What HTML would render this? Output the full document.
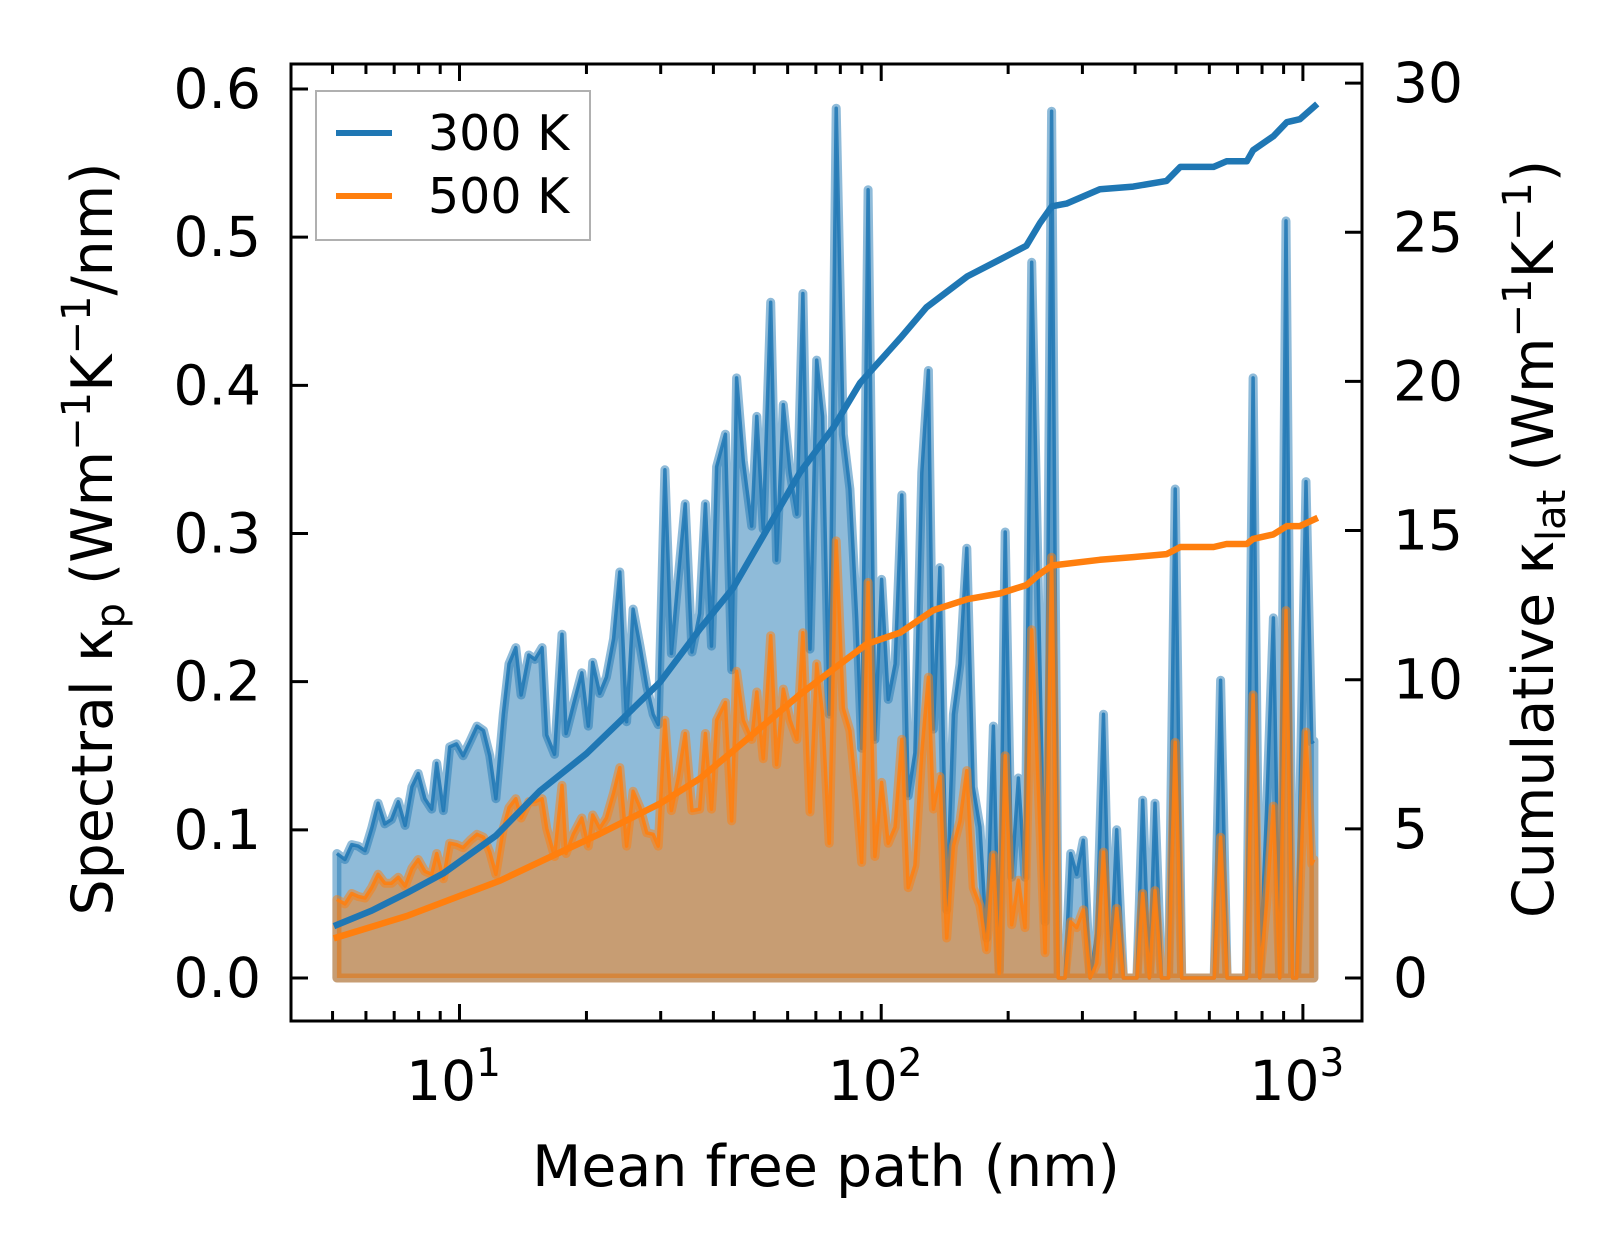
<!DOCTYPE html>
<html><head><meta charset="utf-8"><style>
html,body{margin:0;padding:0;background:#fff;}
svg{display:block;font-family:"DejaVu Sans","Liberation Sans",sans-serif;}
</style></head><body>
<svg id="chart" width="1623" height="1259" viewBox="0 0 1623 1259" xmlns="http://www.w3.org/2000/svg">
<rect width="1623" height="1259" fill="#fff"/>
<g id="marks"></g>
<g id="axes"></g>
<g>
  <rect x="316" y="91" width="274" height="149" fill="#fff" fill-opacity="0.8" stroke="#b0b0b0" stroke-width="2"/>
  <line x1="336" y1="133" x2="392" y2="133" stroke="#1f77b4" stroke-width="6"/>
  <text x="428" y="150" font-size="49">300 K</text>
  <line x1="336" y1="196" x2="392" y2="196" stroke="#ff7f0e" stroke-width="6"/>
  <text x="428" y="213" font-size="49">500 K</text>
</g>
<text x="826" y="1186" font-size="57" text-anchor="middle">Mean free path (nm)</text>
<text transform="translate(112,539) rotate(-90)" font-size="57" text-anchor="middle">Spectral κ<tspan font-size="40" dy="12">p</tspan><tspan dy="-12"> (Wm</tspan><tspan font-size="40" dy="-22">−1</tspan><tspan dy="22">K</tspan><tspan font-size="40" dy="-22">−1</tspan><tspan dy="22">/nm)</tspan></text>
<text transform="translate(1553,539) rotate(-90)" font-size="57" text-anchor="middle">Cumulative κ<tspan font-size="40" dy="12">lat</tspan><tspan dy="-12"> (Wm</tspan><tspan font-size="40" dy="-22">−1</tspan><tspan dy="22">K</tspan><tspan font-size="40" dy="-22">−1</tspan><tspan dy="22">)</tspan></text>
</svg>
<script>
// ---- data ----
const mfp = [5.12,5.35,5.55,5.75,5.97,6.19,6.41,6.65,6.90,7.16,7.43,7.71,7.98,8.28,8.59,8.83,9.16,9.48,9.84,10.2,10.6,11.0,11.4,11.8,12.2,12.7,13.1,13.6,14.0,14.6,15.1,15.7,16.1,16.8,17.5,17.9,18.6,19.5,20.2,20.7,21.5,22.3,23.2,24.0,24.9,25.8,26.8,27.8,28.8,29.6,30.7,31.8,33.0,34.3,35.6,
37.1,38.3,39.6,40.7,42.7,44.2,45.4,47.1,49.3,50.7,52.5,54.7,56.5,58.6,60.8,63.1,65.2,67.8,70.3,72.6,75.3,78.2,81.3,84.3,87.5,89.9,93.1,96.6,100.2,103.9,107.9,111.9,115.9,120.2,124.8,129.4,133.0,137.8,143.0,148.3,153.8,159.6,165.3,171.4,177.8,184.5,
190.5,196.8,203.9,211.5,219.3,227.5,244.7,253.5,263.0,272.8,281.5,290.8,301.5,312.8,324.5,336.6,349.1,361.7,375.2,389,404,417,432.5,446,462,480,498,516,535,555,575,595,616,638,661,685,710,735,762,790,820,851,881,912,946,966,1017,1050,1062];
const spec300 = [.084,.080,.090,.089,.086,.101,.118,.104,.107,.119,.103,.129,.138,.121,.114,.145,.113,.156,.158,.150,.160,.170,.167,.150,.121,.178,.212,.223,.191,.218,.215,.223,.164,.151,.232,.165,.184,.206,.170,.213,.192,.203,.229,.274,.173,.249,.224,.197,.178,.171,.343,.219,.270,.320,.220,
.246,.320,.224,.345,.367,.208,.405,.349,.305,.379,.303,.456,.282,.387,.341,.313,.462,.222,.417,.379,.178,.587,.367,.330,.243,.155,.532,.161,.269,.188,.212,.326,.123,.152,.341,.410,.168,.277,.046,.178,.212,.290,.129,.102,.027,.170,
.005,.301,.068,.135,.068,.483,.038,.585,0,0,.084,.070,.093,0,.03,.178,0,.100,0,0,0,.120,0,.118,0,0,.330,0,0,0,0,0,0,.201,0,0,0,0,.405,0,.114,.243,0,.511,0,0,.335,.159,.160];
const spec500 = [.053,.050,.057,.055,.054,.061,.070,.064,.064,.068,.062,.074,.080,.072,.070,.084,.067,.091,.090,.088,.093,.097,.095,.085,.070,.101,.115,.121,.108,.119,.119,.121,.101,.082,.130,.084,.097,.108,.089,.110,.101,.108,.125,.142,.089,.126,.115,.098,.097,.089,.174,.113,.135,.165,.113,
.114,.165,.114,.174,.186,.106,.207,.174,.161,.193,.148,.231,.144,.195,.174,.161,.233,.112,.212,.178,.091,.295,.182,.167,.121,.078,.267,.082,.132,.091,.102,.161,.061,.076,.152,.203,.114,.136,.027,.089,.106,.140,.061,.049,.019,.083,
.003,.150,.036,.066,.034,.235,.017,.284,0,0,.038,.034,.046,0,.01,.085,0,.047,0,0,0,.057,0,.059,0,0,.159,0,0,0,0,0,0,.095,0,0,0,0,.191,0,.05,.116,0,.248,0,0,.166,.077,.08];
const cumMfp300 = [5.12,6.19,7.50,9.16,12.2,15.5,20.0,24.0,29.9,37.2,44.6,64.1,76.9,89.1,111,128,160,191,221,238,254,275,330,396,475,512,614,659,736,762,851,916,984,1067];
const cum300 = [1.78,2.26,2.85,3.51,4.77,6.27,7.52,8.60,9.92,11.71,13.08,16.94,18.44,19.95,21.45,22.48,23.52,24.08,24.55,25.31,25.87,25.96,26.44,26.53,26.72,27.19,27.19,27.38,27.38,27.75,28.22,28.69,28.79,29.23];
const cumMfp500 = [5.12,7.50,12.5,16.7,21.5,29.9,37.2,44.6,64.1,76.9,92.5,111,133,160,191,221,238,254,330,396,475,512,614,659,736,762,851,916,984,1067];
const cum500 = [1.36,2.08,3.27,4.11,4.83,5.85,6.69,7.62,9.50,10.35,11.20,11.58,12.33,12.70,12.89,13.17,13.55,13.83,14.02,14.11,14.21,14.45,14.45,14.55,14.55,14.72,14.87,15.15,15.15,15.38];
const leftTicks = [0,0.1,0.2,0.3,0.4,0.5,0.6];
const leftTickLabels = ["0.0","0.1","0.2","0.3","0.4","0.5","0.6"];
const rightTicks = [0,5,10,15,20,25,30];
const xMajor = [10,100,1000];
const xMajorExp = ["1","2","3"];

// ---- axes functions ----
const L=291,R=1362,T=64,B=1021;
function X(m){return 459.5+(Math.log10(m)-1)*421.7;}
function Y(v){return 978-v*1481.7;}
function Yr(c){return 978-c*29.83;}
const NS="http://www.w3.org/2000/svg";
const marks=document.getElementById('marks'), axes=document.getElementById('axes');
function mk(tag,parent){const e=document.createElementNS(NS,tag);parent.appendChild(e);return e;}

function drawSpectral(vals,color,nm){
  let pts=mfp.map((m,i)=>X(m).toFixed(1)+','+Y(vals[i]).toFixed(1));
  const poly=mk('polygon',marks);
  
  
  poly.setAttribute('points', pts.join(' ')+' '+X(mfp[mfp.length-1]).toFixed(1)+','+Y(0)+' '+X(mfp[0]).toFixed(1)+','+Y(0));
  poly.setAttribute('fill',color);poly.setAttribute('fill-opacity','0.5');
  poly.setAttribute('stroke',color);poly.setAttribute('stroke-opacity','0.5');
  poly.setAttribute('stroke-width','9');poly.setAttribute('stroke-linejoin','round');
  const ln=mk('polyline',marks);
  
  
  ln.setAttribute('points',pts.join(' '));
  ln.setAttribute('fill','none');ln.setAttribute('stroke',color);ln.setAttribute('stroke-opacity','0.85');
  ln.setAttribute('stroke-width','3.5');ln.setAttribute('stroke-linejoin','round');
}
drawSpectral(spec300,'#1f77b4','spectral-300k');
drawSpectral(spec500,'#ff7f0e','spectral-500k');
function drawCum(xs,vals,color,nm){
  const ln=mk('polyline',marks);
  
  
  ln.setAttribute('points',xs.map((m,i)=>X(m).toFixed(1)+','+Yr(vals[i]).toFixed(1)).join(' '));
  ln.setAttribute('fill','none');ln.setAttribute('stroke',color);ln.setAttribute('stroke-width','6.5');
  ln.setAttribute('stroke-linejoin','round');ln.setAttribute('stroke-linecap','square');
}
drawCum(cumMfp300,cum300,'#1f77b4','cumulative-300k-line');
drawCum(cumMfp500,cum500,'#ff7f0e','cumulative-500k-line');

// frame
const fr=mk('rect',axes);


fr.setAttribute('x',L);fr.setAttribute('y',T);fr.setAttribute('width',R-L);fr.setAttribute('height',B-T);
fr.setAttribute('fill','none');fr.setAttribute('stroke','#000');fr.setAttribute('stroke-width','3');
function tick(x1,y1,x2,y2){const t=mk('line',axes);
  
  
  t.setAttribute('x1',x1);t.setAttribute('y1',y1);t.setAttribute('x2',x2);t.setAttribute('y2',y2);
  t.setAttribute('stroke','#000');t.setAttribute('stroke-width','3');}
function label(x,y,txt,anchor,nm){const t=mk('text',axes);
  
  
  t.setAttribute('x',x);t.setAttribute('y',y);t.setAttribute('font-size','55');t.setAttribute('text-anchor',anchor);t.textContent=txt;return t;}
leftTicks.forEach((v,i)=>{tick(L,Y(v),L+17,Y(v));label(261,Y(v)+19,leftTickLabels[i],'end','left-tick-label');});
rightTicks.forEach(c=>{tick(R,Yr(c),R-17,Yr(c));label(1393,Yr(c)+19,String(c),'start','right-tick-label');});
xMajor.forEach((m,i)=>{tick(X(m),B,X(m),B-17);tick(X(m),T,X(m),T+17);
  const t=label(X(m)-6,1100,'10','middle','x-tick-label');
  const s=document.createElementNS(NS,'tspan');s.setAttribute('font-size','39');s.setAttribute('dy','-24');s.textContent=xMajorExp[i];t.appendChild(s);});
[1,10,100,1000].forEach(d=>{for(let k=2;k<=9;k++){const x=X(d*k);if(x>L+2&&x<R-2){tick(x,B,x,B-10);tick(x,T,x,T+10);}}});
</script>
</body></html>
